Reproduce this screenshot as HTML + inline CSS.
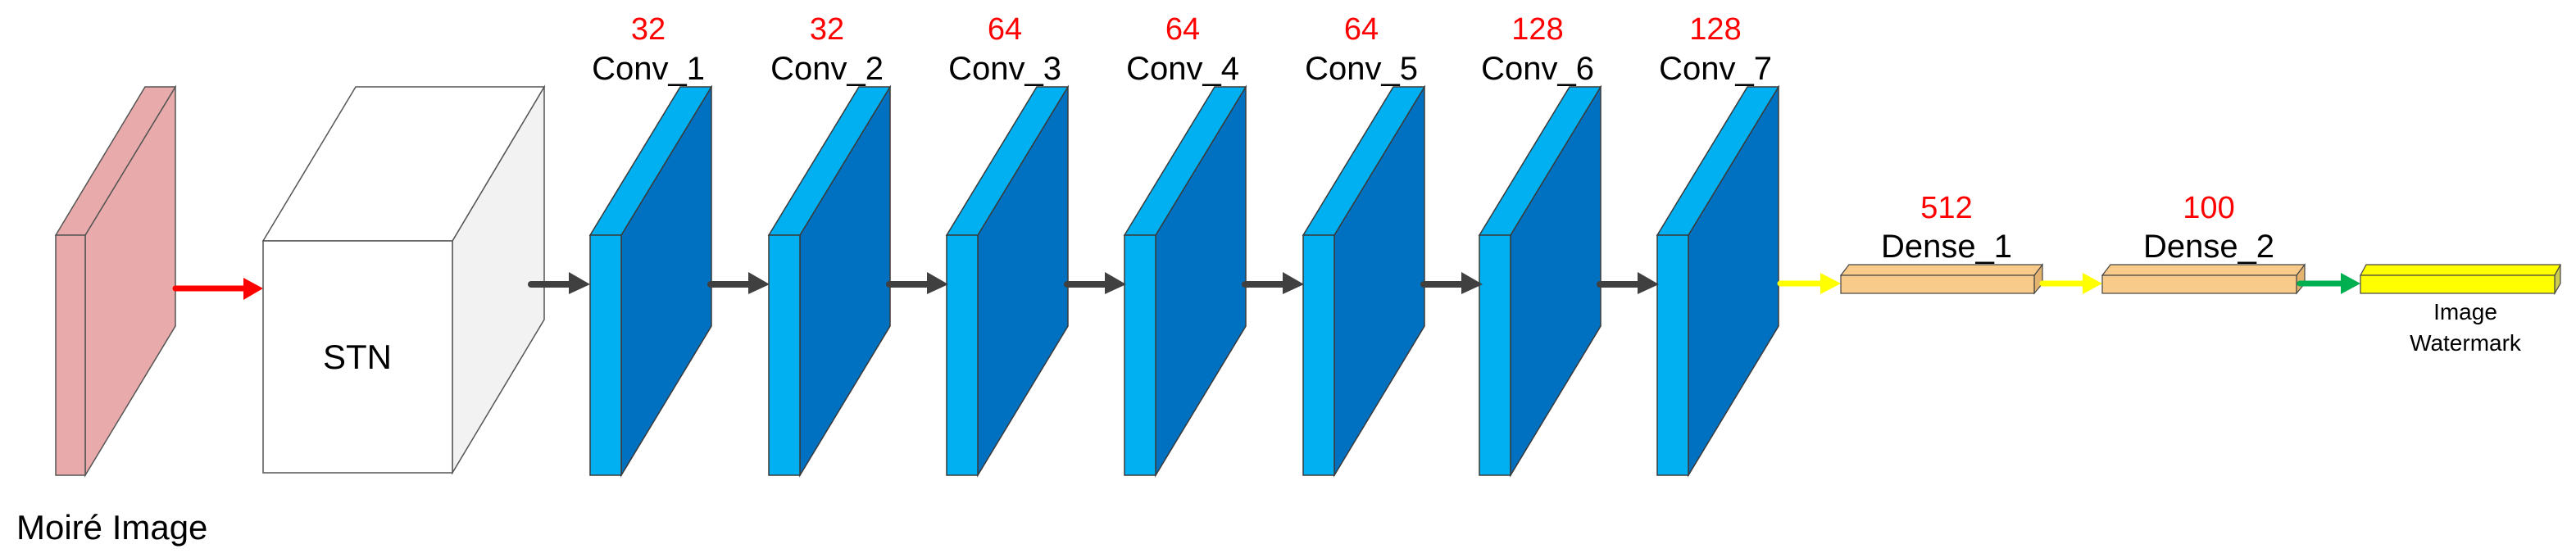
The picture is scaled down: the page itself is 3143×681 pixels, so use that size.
<!DOCTYPE html>
<html><head><meta charset="utf-8"><style>
html,body{margin:0;padding:0;background:#fff;}
svg{display:block;}
text{font-family:"Liberation Sans",sans-serif;}
</style></head><body>
<svg width="3143" height="681" viewBox="0 0 3143 681" xmlns="http://www.w3.org/2000/svg">
<defs>
<g id="conv">
  <polygon points="38,287 148,106 148,398 38,580" fill="#0070c0" stroke="#3a3a3a" stroke-width="1.5"/>
  <polygon points="0,287 38,287 148,106 110,106" fill="#00b0f0" stroke="#3a3a3a" stroke-width="1.5"/>
  <rect x="0" y="287" width="38" height="293" fill="#00b0f0" stroke="#3a3a3a" stroke-width="1.5"/>
</g>
<g id="darr">
  <line x1="0" y1="347" x2="52" y2="347" stroke="#404040" stroke-width="8" stroke-linecap="round"/>
  <polygon points="46,332 72,347 46,359" fill="#404040"/>
</g>
</defs>

<polygon points="104,287 214,106 214,398 104,580" fill="#e8aaaa" stroke="#555" stroke-width="1.5"/>
<polygon points="68,287 104,287 214,106 177,106" fill="#e8aaaa" stroke="#555" stroke-width="1.5"/>
<rect x="68" y="287" width="36" height="293" fill="#e8aaaa" stroke="#555" stroke-width="1.5"/>
<text x="20" y="658" font-size="42">Moiré Image</text>

<line x1="214" y1="352" x2="300" y2="352" stroke="#ff0000" stroke-width="7" stroke-linecap="round"/>
<polygon points="297,339 321,352 297,366" fill="#ff0000"/>

<polygon points="552,294 664,106 664,390 552,577" fill="#f2f2f2" stroke="#555" stroke-width="1.5"/>
<polygon points="321,294 552,294 664,106 434,106" fill="#ffffff" stroke="#555" stroke-width="1.5"/>
<rect x="321" y="294" width="231" height="283" fill="#ffffff" stroke="#555" stroke-width="1.5"/>
<text x="436" y="450" font-size="42" text-anchor="middle">STN</text>

<use href="#darr" x="648"/>

<use href="#conv" x="720"/>
<use href="#conv" x="938"/>
<use href="#conv" x="1155"/>
<use href="#conv" x="1372"/>
<use href="#conv" x="1590"/>
<use href="#conv" x="1805"/>
<use href="#conv" x="2022"/>

<use href="#darr" x="867"/>
<use href="#darr" x="1085"/>
<use href="#darr" x="1302"/>
<use href="#darr" x="1519"/>
<use href="#darr" x="1737"/>
<use href="#darr" x="1952"/>

<g font-size="38" text-anchor="middle">
<text x="791" y="48" fill="#ff0000">32</text>
<text x="1009" y="48" fill="#ff0000">32</text>
<text x="1226" y="48" fill="#ff0000">64</text>
<text x="1443" y="48" fill="#ff0000">64</text>
<text x="1661" y="48" fill="#ff0000">64</text>
<text x="1876" y="48" fill="#ff0000">128</text>
<text x="2093" y="48" fill="#ff0000">128</text>
</g>
<g font-size="40" text-anchor="middle">
<text x="791" y="97">Conv_1</text>
<text x="1009" y="97">Conv_2</text>
<text x="1226" y="97">Conv_3</text>
<text x="1443" y="97">Conv_4</text>
<text x="1661" y="97">Conv_5</text>
<text x="1876" y="97">Conv_6</text>
<text x="2093" y="97">Conv_7</text>
</g>

<line x1="2172" y1="346" x2="2225" y2="346" stroke="#ffff00" stroke-width="7" stroke-linecap="round"/>
<polygon points="2221,333 2246,346 2221,359" fill="#ffff00"/>

<polygon points="2482,336 2492,323 2492,346 2482,358" fill="#e3b36f" stroke="#444" stroke-width="1.2"/>
<polygon points="2246,336 2482,336 2492,323 2256,323" fill="#f8cb8a" stroke="#444" stroke-width="1.2"/>
<rect x="2246" y="336" width="236" height="22" fill="#f8cb8a" stroke="#444" stroke-width="1.2"/>

<line x1="2492" y1="346" x2="2545" y2="346" stroke="#ffff00" stroke-width="7" stroke-linecap="round"/>
<polygon points="2541,333 2565,346 2541,359" fill="#ffff00"/>

<polygon points="2802,336 2812,323 2812,346 2802,358" fill="#e3b36f" stroke="#444" stroke-width="1.2"/>
<polygon points="2565,336 2802,336 2812,323 2575,323" fill="#f8cb8a" stroke="#444" stroke-width="1.2"/>
<rect x="2565" y="336" width="237" height="22" fill="#f8cb8a" stroke="#444" stroke-width="1.2"/>

<line x1="2806" y1="346" x2="2860" y2="346" stroke="#00b050" stroke-width="7" stroke-linecap="round"/>
<polygon points="2856,333 2880,346 2856,359" fill="#00b050"/>

<polygon points="3117,336 3124,323 3124,346 3117,358" fill="#cccc50" stroke="#444" stroke-width="1.2"/>
<polygon points="2880,336 3117,336 3124,323 2887,323" fill="#ffff00" stroke="#444" stroke-width="1.2"/>
<rect x="2880" y="336" width="237" height="22" fill="#ffff00" stroke="#444" stroke-width="1.2"/>

<g text-anchor="middle">
<text x="2375" y="266" font-size="38" fill="#ff0000">512</text>
<text x="2695" y="266" font-size="38" fill="#ff0000">100</text>
<text x="2375" y="314" font-size="40">Dense_1</text>
<text x="2695" y="314" font-size="40">Dense_2</text>
<text x="3008" y="390" font-size="28">Image</text>
<text x="3008" y="428" font-size="28">Watermark</text>
</g>
</svg>
</body></html>
